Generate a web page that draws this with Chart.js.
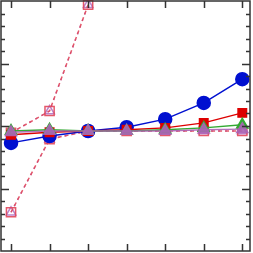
<!DOCTYPE html>
<html>
<head>
<meta charset="utf-8">
<script src="https://cdn.jsdelivr.net/npm/chart.js@4/dist/chart.umd.min.js"></script>
<style>
  html, body { margin: 0; padding: 0; background: #fff; }
  #wrap { width: 253px; height: 253px; }
</style>
</head>
<body>
<div id="wrap"><canvas id="grafico"></canvas></div>
<script>
// Datos (x = índice, y en unidades del eje)
const xs = [0, 1, 2, 3, 4, 5, 6];
const serieAzul = [1.73, 1.84, 1.92, 1.98, 2.11, 2.37, 2.75];
const serieRoja = [1.86, 1.90, 1.92, 1.94, 1.97, 2.05, 2.21];
const serieVerde = [1.92, 1.94, 1.92, 1.92, 1.94, 1.97, 2.02];
const serieMorada = [1.90, 1.92, 1.92, 1.92, 1.92, 1.94, 1.95];
const serieDiscA = [0.62, 1.79, 1.92, 1.92, 1.92, 1.92, 1.92];
const serieDiscB = [1.89, 2.24, 3.94];

// Ticks de los ejes
const xTicks = [0, 1, 2, 3, 4, 5, 6];
const yMinor = [0.2, 0.4, 0.6, 0.8, 1.2, 1.4, 1.6, 1.8, 2.2, 2.4, 2.6, 2.8, 3.2, 3.4, 3.6, 3.8];
const yMajor = [1, 2, 3];

function puntos(vals) {
    return vals.map((v, i) => ({ x: xs[i], y: v }));
}

function serie(vals, color, estilo, radio, relleno, dash) {
    return {
        data: puntos(vals),
        borderColor: color,
        backgroundColor: relleno ? color : 'rgba(0,0,0,0)',
        pointBorderColor: color,
        pointBackgroundColor: relleno ? color : 'rgba(0,0,0,0)',
        pointStyle: estilo,
        pointRadius: radio,
        pointBorderWidth: 1.5,
        borderWidth: 1.5,
        borderDash: dash || [],
        fill: false,
        tension: 0,
        clip: false
    };
}

// Marco y ticks hacia dentro
const marcoPlugin = {
    id: 'marco',
    afterDraw(chart) {
        const ctx = chart.ctx;
        const a = chart.chartArea;
        const sx = chart.scales.x;
        const sy = chart.scales.y;
        ctx.save();
        ctx.strokeStyle = '#333';
        ctx.lineWidth = 1.5;
        ctx.strokeRect(a.left, a.top, a.right - a.left, a.bottom - a.top);
        ctx.beginPath();
        xTicks.forEach(v => {
            const px = Math.round(sx.getPixelForValue(v)) + 0.5;
            ctx.moveTo(px, a.top); ctx.lineTo(px, a.top + 7);
            ctx.moveTo(px, a.bottom); ctx.lineTo(px, a.bottom - 7);
        });
        yMinor.forEach(v => {
            const py = Math.round(sy.getPixelForValue(v)) + 0.5;
            ctx.moveTo(a.left, py); ctx.lineTo(a.left + 4, py);
            ctx.moveTo(a.right, py); ctx.lineTo(a.right - 4, py);
        });
        yMajor.forEach(v => {
            const py = Math.round(sy.getPixelForValue(v)) + 0.5;
            ctx.moveTo(a.left, py); ctx.lineTo(a.left + 8, py);
            ctx.moveTo(a.right, py); ctx.lineTo(a.right - 8, py);
        });
        ctx.stroke();
        ctx.restore();
    }
};

const ctx = document.getElementById('grafico').getContext('2d');
new Chart(ctx, {
    type: 'line',
    data: {
        datasets: [
            serie(serieMorada, 'rgba(170,100,180,0.9)', 'triangle', 6.5, true),
            serie(serieVerde, '#33aa33', 'triangle', 6.5, true),
            serie(serieRoja, '#dd0000', 'rect', 6, true),
            serie(serieAzul, '#0010d0', 'circle', 6.5, true),
            serie(serieDiscA, 'rgba(225,70,90,0.9)', 'rect', 6.5, false, [4, 3]),
            serie(serieDiscA, 'rgba(170,100,190,0.8)', 'triangle', 5.5, false, [2, 5]),
            serie(serieDiscB, 'rgba(225,70,90,0.9)', 'rect', 6.5, false, [4, 3]),
            serie(serieDiscB, 'rgba(170,100,190,0.8)', 'triangle', 5.5, false, [2, 5])
        ]
    },
    options: {
        responsive: true,
        maintainAspectRatio: false,
        animation: false,
        layout: { autoPadding: false, padding: { left: 1, top: 1, right: 3, bottom: 2 } },
        plugins: { legend: { display: false }, tooltip: { enabled: false } },
        scales: {
            x: { type: 'linear', min: -0.26, max: 6.2, display: false },
            y: { type: 'linear', min: 0, max: 4, display: false }
        }
    },
    plugins: [marcoPlugin]
});
</script>
</body>
</html>
